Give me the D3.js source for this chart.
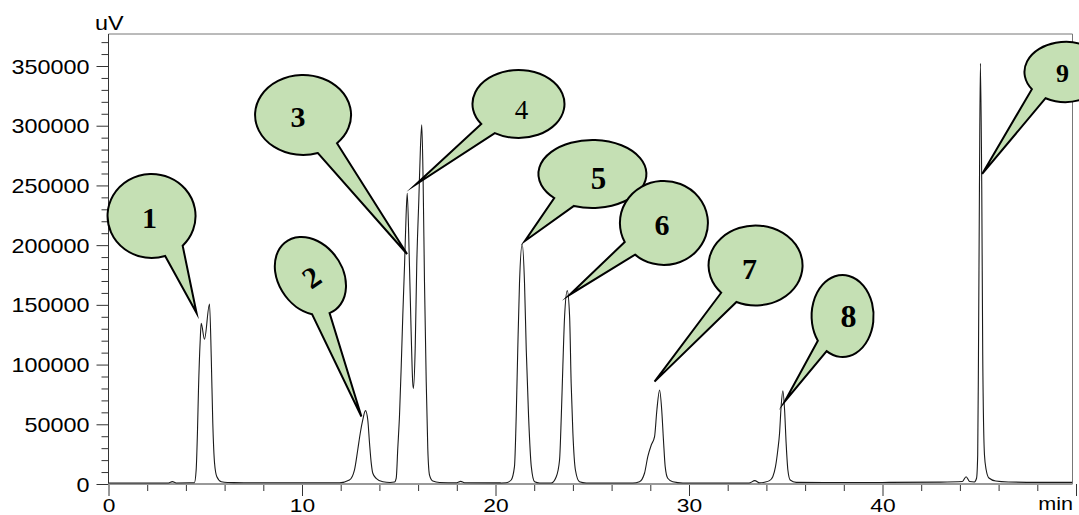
<!DOCTYPE html>
<html><head><meta charset="utf-8">
<script src="https://cdn.jsdelivr.net/npm/d3@7"></script>
<style>html,body{margin:0;padding:0;background:#fff;} svg{display:block;}</style>
</head><body>
<svg id="chart" width="1079" height="515"></svg>
<script>
// ---------------- DATA ----------------
const xTickValues = [0, 10, 20, 30, 40];
const xUnitLabel = "min";
const yTickValues = [0, 50000, 100000, 150000, 200000, 250000, 300000, 350000];
const yUnitLabel = "uV";

// chromatogram trace, [time (min), signal (uV)]
const baselineStart = [[0,800],[1,800],[2,900],[3.1,900],[3.3,2000],[3.5,900],[4.2,1000],[4.44,1100]];
const peak1 = [[4.53,11700],[4.60,45000],[4.65,78700],[4.74,120600],[4.79,134600],[4.96,121200],[5.22,150750],
  [5.31,106600],[5.39,50800],[5.48,17600],[5.60,6100],[5.83,1900],[6.15,1200],[7,1100],[9,1000],[11,1000],[11.94,1100]];
const peak2 = [[12.45,3350],[12.71,11700],[12.88,28500],[13.01,42500],[13.14,53600],[13.28,61400],[13.40,53600],
  [13.49,34100],[13.58,17300],[13.66,9000],[13.83,4800],[14.18,1900],[14.55,1300]];
const peak3and4 = [[14.78,1700],[14.87,5000],[14.95,29900],[15.04,57800],[15.13,99700],[15.21,141500],[15.30,183400],
  [15.38,225300],[15.44,243500],[15.54,191800],[15.64,127500],[15.72,85700],[15.76,80000],[15.85,113600],
  [15.93,183400],[16.04,239300],[16.12,281200],[16.19,300700],[16.26,253200],[16.33,169400],[16.42,85700],
  [16.50,29900],[16.59,7500],[16.76,2500],[17.11,1300],[18.0,1100],[18.2,2200],[18.4,1100],[20.3,900],[20.55,1000]];
const peak5 = [[20.81,3350],[20.98,14500],[21.07,56400],[21.15,112200],[21.24,168100],[21.38,201000],[21.50,168100],
  [21.59,112200],[21.71,56400],[21.85,14500],[22.02,1900],[22.28,900],[22.7,900]];
const peak6 = [[22.88,900],[23.14,6100],[23.31,20100],[23.40,56400],[23.48,98200],[23.57,140100],[23.71,161900],
  [23.83,140100],[23.91,84300],[24.00,42500],[24.13,11700],[24.34,1900],[24.69,900],[26,800],[27.10,800]];
const peak7 = [[27.44,1900],[27.70,9000],[27.87,22900],[28.05,32700],[28.22,39600],[28.34,62000],[28.48,78700],
  [28.59,62000],[28.68,36900],[28.77,14500],[28.90,4800],[29.16,1900],[29.68,900],[31,800],[33.1,800],[33.4,2800],[33.65,1000]];
const peak8 = [[33.9,1500],[34.16,2800],[34.33,6100],[34.47,14500],[34.59,28500],[34.68,42500],[34.76,64700],
  [34.85,78100],[34.94,62000],[35.02,34100],[35.11,11700],[35.23,3350],[35.54,1400],[37,1200],[40,1300],[43,1600]];
const peak9 = [[44.13,2100],[44.32,6100],[44.50,2100],[44.75,1700],[44.86,4800],[44.92,24300],[44.96,108000],
  [45.01,247600],[45.06,352300],[45.13,247600],[45.18,108000],[45.27,24300],[45.36,11700],[45.50,5000],
  [45.85,2500],[46.5,1700],[48,1400],[49.8,1400]];

// callout labels and the trace point each one points at
const peakLabels = ["1","2","3","4","5","6","7","8","9"];
const labelTipTime  = [4.55, 13.07, 15.43, 15.88, 21.52, 23.82, 28.22, 34.94, 45.15];
const labelTipValue = [143200, 56500, 192600, 250800, 203500, 158300, 85700, 68900, 259600];

// ---------------- LAYOUT / STYLE ----------------
const bubbleStyle = [
  {dx:-45,  dy:-97,   rx:44, ry:42, rot:0,   a1:45,  a2:72,  fs:30, bold:true,  tdx:-2, tdy:2},
  {dx:-51,  dy:-140.5,rx:32, ry:42, rot:-35, a1:100, a2:130, fs:30, bold:true,  tdx:1,  tdy:1},
  {dx:-104, dy:-139,  rx:48, ry:40, rot:0,   a1:45,  a2:72,  fs:30, bold:true,  tdx:-5, tdy:2},
  {dx:102.7,dy:-80.5, rx:46, ry:34, rot:0,   a1:121, a2:144, fs:27, bold:false, tdx:3,  tdy:6},
  {dx:67.5, dy:-67,   rx:54, ry:34, rot:0,   a1:110, a2:135, fs:31, bold:true,  tdx:6,  tdy:4},
  {dx:94.5, dy:-72,   rx:44, ry:42, rot:0,   a1:131, a2:153, fs:30, bold:true,  tdx:-2, tdy:2},
  {dx:101,  dy:-116.2,rx:47, ry:40, rot:0,   a1:114, a2:137, fs:30, bold:true,  tdx:-6, tdy:3},
  {dx:58,   dy:-85.7, rx:31, ry:41, rot:0,   a1:121, a2:143, fs:32, bold:true,  tdx:6,  tdy:0},
  {dx:83.3, dy:-102,  rx:41, ry:30, rot:0,   a1:119, a2:145, fs:26, bold:true,  tdx:-3, tdy:1}
];

const W = 1079, H = 515;
const plot = {left:108.5, right:1072.5, top:34, bottom:484};
const svg = d3.select("#chart");

const x = d3.scaleLinear().domain([0, 50]).range([108.5, 1076]);
const y = d3.scaleLinear().domain([0, 350000]).range([484, 66]);

const sansFont = "'Liberation Sans', Arial, sans-serif";
const tickColor = "#333";

// frame (top/right)
svg.append("path")
  .attr("d", `M${plot.left},${plot.top}H${plot.right}V${plot.bottom}`)
  .attr("fill","none").attr("stroke","#777").attr("stroke-width",1);

// clip for trace
svg.append("clipPath").attr("id","plotclip").append("rect")
  .attr("x",plot.left).attr("y",plot.top).attr("width",plot.right-plot.left).attr("height",plot.bottom-plot.top+2);

// Y axis minor ticks
const yMinor = d3.range(0, 375000, 10000).filter(v => v % 50000 !== 0);
const gyMinor = svg.append("g").attr("transform",`translate(${plot.left},0)`)
  .call(d3.axisLeft(y).tickValues(yMinor).tickSize(7).tickFormat(""));
gyMinor.select(".domain").remove();
gyMinor.selectAll("line").attr("stroke",tickColor);

// Y axis major
const gy = svg.append("g").attr("transform",`translate(${plot.left},0)`)
  .call(d3.axisLeft(y).tickValues(yTickValues).tickSize(12).tickPadding(7).tickFormat(d3.format("d")));
gy.select(".domain").remove();
gy.selectAll("line").attr("stroke",tickColor);
gy.selectAll("text").attr("x",null).attr("dy","0.35em")
  .attr("transform","translate(-19,0) scale(1.17,1)")
  .attr("font-family",sansFont).attr("font-size",20).attr("fill","#000");

// X axis minor ticks
const xMinor = d3.range(0, 51, 2).filter(v => v % 10 !== 0);
const gxMinor = svg.append("g").attr("transform",`translate(0,${plot.bottom})`)
  .call(d3.axisBottom(x).tickValues(xMinor).tickSize(7).tickFormat(""));
gxMinor.select(".domain").remove();
gxMinor.selectAll("line").attr("stroke",tickColor);

// X axis major
const gx = svg.append("g").attr("transform",`translate(0,${plot.bottom})`)
  .call(d3.axisBottom(x).tickValues(xTickValues.concat([50])).tickSize(12).tickPadding(3)
    .tickFormat(d => xTickValues.includes(d) ? String(d) : ""));
gx.select(".domain").remove();
gx.selectAll("line").attr("stroke",tickColor);
gx.selectAll("text").each(function(){
  const t = d3.select(this);
  const yy = +t.attr("y");
  t.attr("y",null).attr("transform",`translate(0,${yy}) scale(1.2,1)`);
}).attr("font-family",sansFont).attr("font-size",19).attr("fill","#000");

// axis lines
svg.append("line").attr("x1",plot.left).attr("x2",plot.left).attr("y1",plot.top).attr("y2",plot.bottom)
  .attr("stroke","#333").attr("stroke-width",1);
svg.append("line").attr("x1",plot.left).attr("x2",plot.right).attr("y1",plot.bottom).attr("y2",plot.bottom)
  .attr("stroke","#999").attr("stroke-width",2);

// unit labels
svg.append("text").attr("transform","translate(95,30) scale(1.17,1)")
  .attr("font-family",sansFont).attr("font-size",20).attr("fill","#000").text(yUnitLabel);
svg.append("text").attr("transform","translate(1073,510) scale(1.2,1)").attr("text-anchor","end")
  .attr("font-family",sansFont).attr("font-size",18).attr("fill","#000").text(xUnitLabel);

// trace
const trace = [].concat(baselineStart, peak1, peak2, peak3and4, peak5, peak6, peak7, peak8, peak9);
const line = d3.line().x(d => x(d[0])).y(d => y(d[1])).curve(d3.curveMonotoneX);
svg.append("path").datum(trace).attr("d", line).attr("clip-path","url(#plotclip)")
  .attr("fill","none").attr("stroke","#1a1a1a").attr("stroke-width",1.1).attr("stroke-linejoin","round");

// callouts
function ellPt(c, rx, ry, rot, deg){
  const t = deg*Math.PI/180, r = rot*Math.PI/180;
  const lx = rx*Math.cos(t), ly = ry*Math.sin(t);
  return [c[0] + lx*Math.cos(r) - ly*Math.sin(r), c[1] + lx*Math.sin(r) + ly*Math.cos(r)];
}
const callouts = svg.append("g");
peakLabels.forEach((lab, i) => {
  const s = bubbleStyle[i];
  const tip = [x(labelTipTime[i]), y(labelTipValue[i])];
  const c = [tip[0] + s.dx, tip[1] + s.dy];
  const pa = ellPt(c, s.rx, s.ry, s.rot, s.a1);
  const pb = ellPt(c, s.rx, s.ry, s.rot, s.a2);
  const d = `M${pb[0]},${pb[1]} A${s.rx},${s.ry} ${s.rot} 1 1 ${pa[0]},${pa[1]} L${tip[0]},${tip[1]} Z`;
  callouts.append("path").attr("d", d)
    .attr("fill","#c5e0b4").attr("stroke","#000").attr("stroke-width",2)
    .attr("stroke-linejoin","miter").attr("stroke-miterlimit",12);
  callouts.append("text")
    .attr("transform",`translate(${c[0]+s.tdx},${c[1]+s.tdy}) rotate(${s.rot})`)
    .attr("text-anchor","middle").attr("dy","0.35em")
    .attr("font-family","'Liberation Serif', 'Times New Roman', serif")
    .attr("font-weight", s.bold ? "bold" : "normal")
    .attr("font-size", s.fs).attr("fill","#000").text(lab);
});
</script>
</body></html>
